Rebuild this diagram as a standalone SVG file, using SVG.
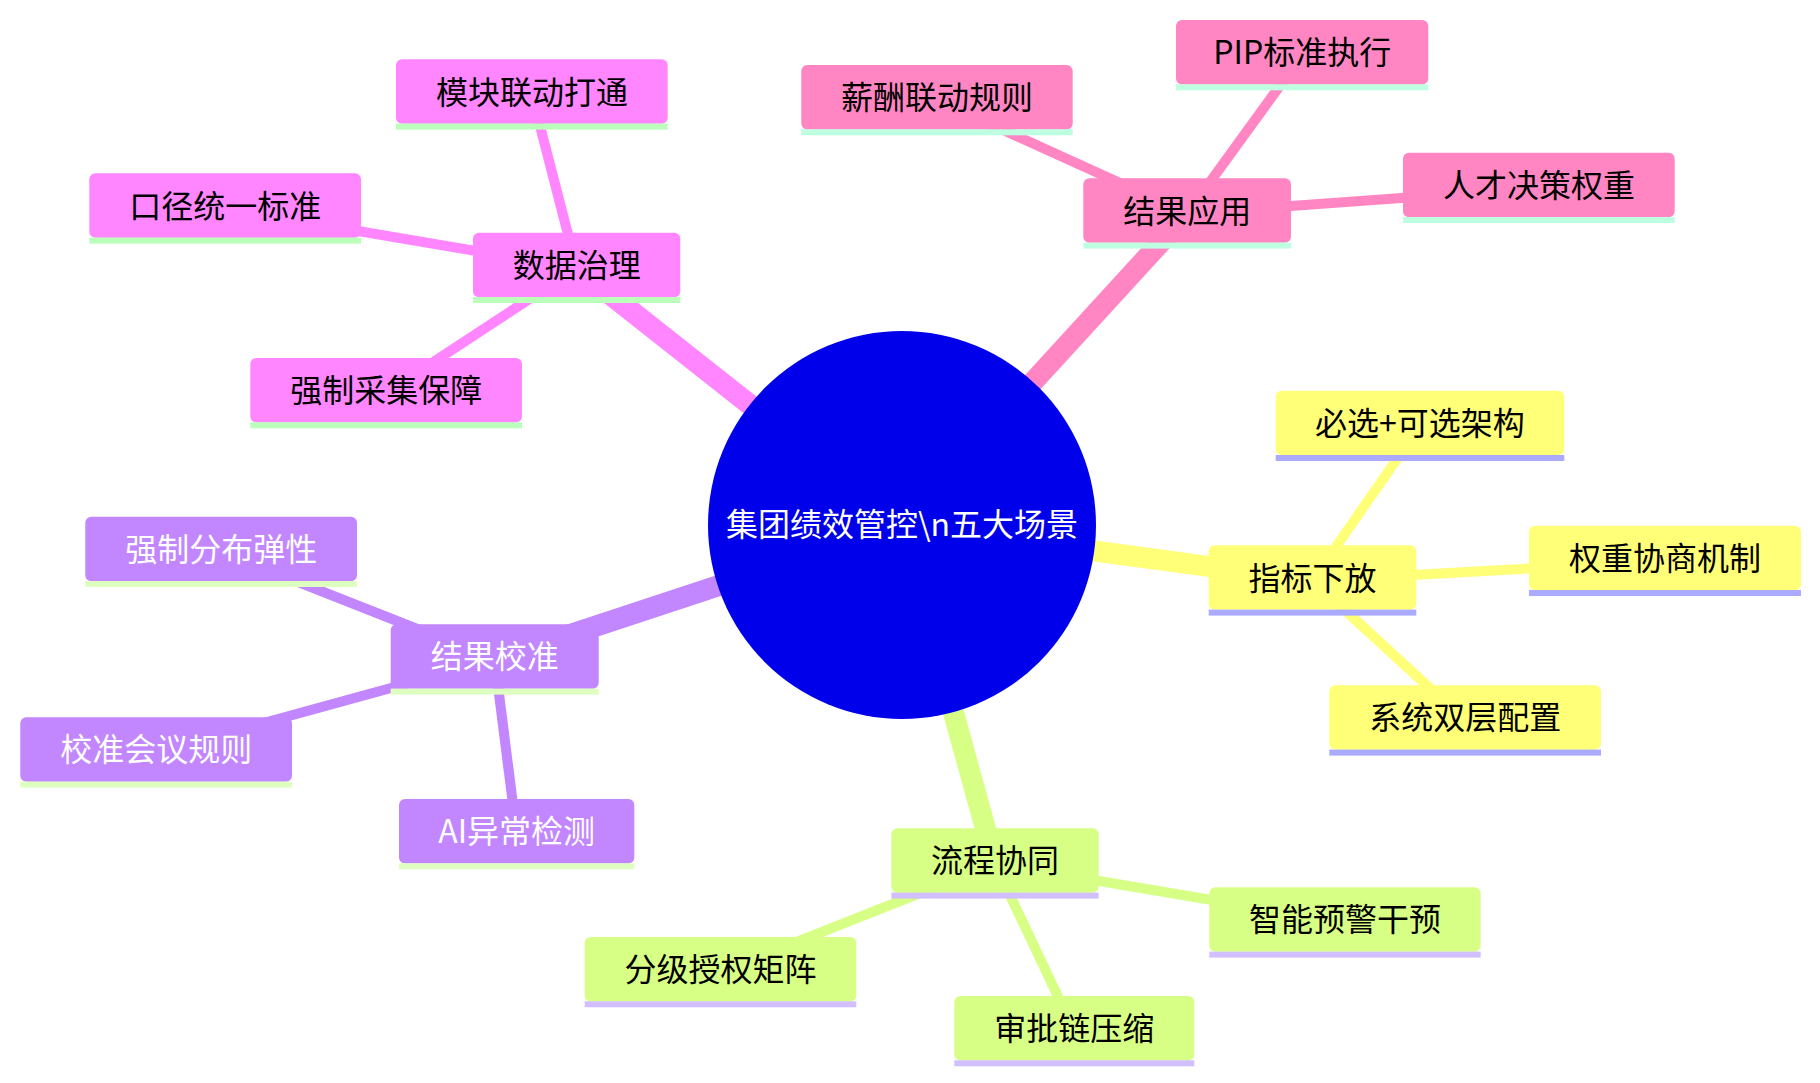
<svg xmlns="http://www.w3.org/2000/svg" width="1820" height="1083" viewBox="0 0 1820 1083">
<style>
text{font-family:"Noto Sans CJK SC","Noto Sans",sans-serif;font-size:32px;text-anchor:middle;dominant-baseline:central}
.e0{stroke-width:21;fill:none}
.e1{stroke-width:10;fill:none}
.s4 .b{fill:#FF86FF}.s4 .u{fill:#BAFFBA}.s4 text{fill:#000}
.s5 .b{fill:#FF86C2}.s5 .u{fill:#BDFFE0}.s5 text{fill:#000}
.s1 .b{fill:#FFFF78}.s1 .u{fill:#AAAAFF}.s1 text{fill:#000}
.s2 .b{fill:#D7FF86}.s2 .u{fill:#D1BFFF}.s2 text{fill:#000}
.s3 .b{fill:#C286FF}.s3 .u{fill:#DEFFC0}.s3 text{fill:#fff}
.c4{stroke:#FF86FF}.c5{stroke:#FF86C2}.c1{stroke:#FFFF78}.c2{stroke:#D7FF86}.c3{stroke:#C286FF}
</style>
<rect width="1820" height="1083" fill="#fff"/>
<g id="connectors">
<line class="e0 c4" x1="902" y1="525" x2="576.7" y2="268"/>
<line class="e0 c5" x1="902" y1="525" x2="1187.2" y2="213.5"/>
<line class="e0 c1" x1="902" y1="525" x2="1312.5" y2="580.5"/>
<line class="e0 c2" x1="902" y1="525" x2="995" y2="863.5"/>
<line class="e0 c3" x1="902" y1="525" x2="494.7" y2="659.5"/>
<line class="e1 c4" x1="576.7" y1="268" x2="531.9" y2="94.5"/>
<line class="e1 c4" x1="576.7" y1="268" x2="225.2" y2="208.5"/>
<line class="e1 c4" x1="576.7" y1="268" x2="386.2" y2="393"/>
<line class="e1 c5" x1="1187.2" y1="213.5" x2="937" y2="100"/>
<line class="e1 c5" x1="1187.2" y1="213.5" x2="1302.2" y2="55"/>
<line class="e1 c5" x1="1187.2" y1="213.5" x2="1538.9" y2="188"/>
<line class="e1 c1" x1="1312.5" y1="580.5" x2="1420" y2="426"/>
<line class="e1 c1" x1="1312.5" y1="580.5" x2="1665" y2="561"/>
<line class="e1 c1" x1="1312.5" y1="580.5" x2="1465.2" y2="720.5"/>
<line class="e1 c2" x1="995" y1="863.5" x2="720.5" y2="972"/>
<line class="e1 c2" x1="995" y1="863.5" x2="1074.3" y2="1031"/>
<line class="e1 c2" x1="995" y1="863.5" x2="1345" y2="922.5"/>
<line class="e1 c3" x1="494.7" y1="659.5" x2="221.2" y2="551.7"/>
<line class="e1 c3" x1="494.7" y1="659.5" x2="156.2" y2="752.5"/>
<line class="e1 c3" x1="494.7" y1="659.5" x2="516.7" y2="834"/>
</g>
<g id="root">
<circle cx="902" cy="525" r="194" fill="#0000EA"/>
<text x="902" y="522" fill="#fff">集团绩效管控\n五大场景</text>
</g>
<g class="s4">
<g id="n-shuju"><rect class="b" x="473" y="232.7" width="207.3" height="64.5" rx="6"/><rect class="u" x="473" y="297" width="207.3" height="6"/><text x="576.7" y="263">数据治理</text></g>
<g id="n-mokuai"><rect class="b" x="396" y="59.3" width="271.7" height="64.5" rx="6"/><rect class="u" x="396" y="123.6" width="271.7" height="6"/><text x="531.9" y="89.5">模块联动打通</text></g>
<g id="n-koujing"><rect class="b" x="89.3" y="173.3" width="271.7" height="64.5" rx="6"/><rect class="u" x="89.3" y="237.6" width="271.7" height="6"/><text x="225.2" y="203.5">口径统一标准</text></g>
<g id="n-qiangzhicaiji"><rect class="b" x="250.3" y="358" width="271.7" height="64.5" rx="6"/><rect class="u" x="250.3" y="422.3" width="271.7" height="6"/><text x="386.2" y="388">强制采集保障</text></g>
</g>
<g class="s5">
<g id="n-jieguoyingyong"><rect class="b" x="1083.3" y="178.3" width="207.7" height="64.5" rx="6"/><rect class="u" x="1083.3" y="242.6" width="207.7" height="6"/><text x="1187.2" y="208.5">结果应用</text></g>
<g id="n-xinchou"><rect class="b" x="801.3" y="65" width="271.4" height="64.5" rx="6"/><rect class="u" x="801.3" y="129.3" width="271.4" height="6"/><text x="937" y="95">薪酬联动规则</text></g>
<g id="n-pip"><rect class="b" x="1176" y="20" width="252.3" height="64.5" rx="6"/><rect class="u" x="1176" y="84.3" width="252.3" height="6"/><text x="1302.2" y="50">PIP标准执行</text></g>
<g id="n-rencai"><rect class="b" x="1403" y="152.7" width="271.7" height="64.5" rx="6"/><rect class="u" x="1403" y="217" width="271.7" height="6"/><text x="1538.9" y="182.7">人才决策权重</text></g>
</g>
<g class="s1">
<g id="n-zhibiao"><rect class="b" x="1208.7" y="545.3" width="207.6" height="64.5" rx="6"/><rect class="u" x="1208.7" y="609.6" width="207.6" height="6"/><text x="1312.5" y="575.5">指标下放</text></g>
<g id="n-bixuan"><rect class="b" x="1275.7" y="390.7" width="288.6" height="64.5" rx="6"/><rect class="u" x="1275.7" y="455" width="288.6" height="6"/><text x="1420" y="420.7">必选+可选架构</text></g>
<g id="n-quanzhong"><rect class="b" x="1529" y="525.7" width="272" height="64.5" rx="6"/><rect class="u" x="1529" y="590" width="272" height="6"/><text x="1665" y="555.7">权重协商机制</text></g>
<g id="n-xitong"><rect class="b" x="1329.3" y="685.3" width="271.7" height="64.5" rx="6"/><rect class="u" x="1329.3" y="749.6" width="271.7" height="6"/><text x="1465.2" y="715.3">系统双层配置</text></g>
</g>
<g class="s2">
<g id="n-liucheng"><rect class="b" x="891.3" y="828.3" width="207.4" height="64.5" rx="6"/><rect class="u" x="891.3" y="892.6" width="207.4" height="6"/><text x="995" y="858.3">流程协同</text></g>
<g id="n-fenji"><rect class="b" x="584.7" y="937" width="271.6" height="64.5" rx="6"/><rect class="u" x="584.7" y="1001.3" width="271.6" height="6"/><text x="720.5" y="967">分级授权矩阵</text></g>
<g id="n-shenpi"><rect class="b" x="954.3" y="996" width="240" height="64.5" rx="6"/><rect class="u" x="954.3" y="1060.3" width="240" height="6"/><text x="1074.3" y="1026">审批链压缩</text></g>
<g id="n-zhineng"><rect class="b" x="1209.3" y="887.3" width="271.4" height="64.5" rx="6"/><rect class="u" x="1209.3" y="951.6" width="271.4" height="6"/><text x="1345" y="917.3">智能预警干预</text></g>
</g>
<g class="s3">
<g id="n-jiaozhun"><rect class="b" x="390.7" y="624.3" width="208" height="64.5" rx="6"/><rect class="u" x="390.7" y="688.6" width="208" height="6"/><text x="494.7" y="654.3">结果校准</text></g>
<g id="n-fenbu"><rect class="b" x="85.3" y="516.7" width="271.7" height="64.5" rx="6"/><rect class="u" x="85.3" y="581" width="271.7" height="6"/><text x="221.2" y="546.7">强制分布弹性</text></g>
<g id="n-huiyi"><rect class="b" x="20.3" y="717.3" width="271.7" height="64.5" rx="6"/><rect class="u" x="20.3" y="781.6" width="271.7" height="6"/><text x="156.2" y="747.3">校准会议规则</text></g>
<g id="n-ai"><rect class="b" x="399" y="799" width="235.3" height="64.5" rx="6"/><rect class="u" x="399" y="863.3" width="235.3" height="6"/><text x="516.7" y="829">AI异常检测</text></g>
</g>
</svg>
